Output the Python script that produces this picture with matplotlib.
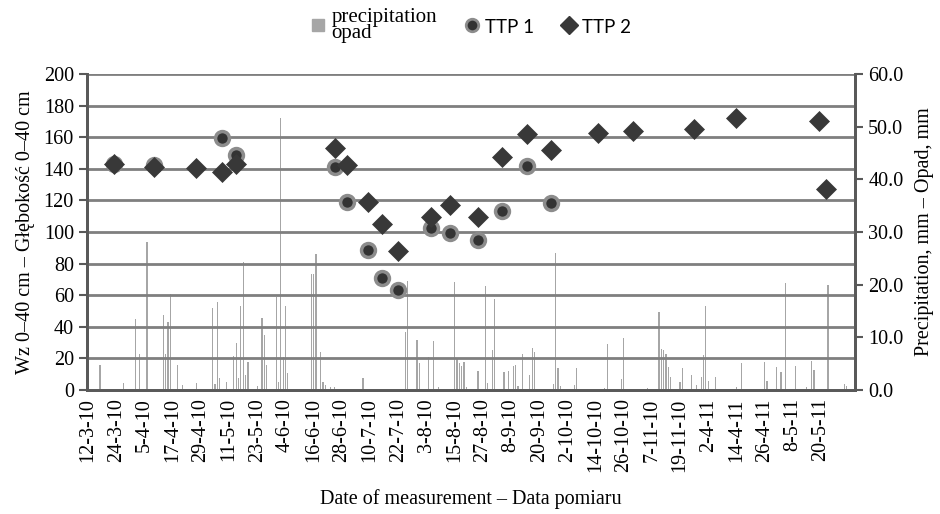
import numpy as np
import matplotlib
matplotlib.use("Agg")
import matplotlib.pyplot as plt
from matplotlib.lines import Line2D

# category axis: one slot per day of measurement, labels every 12 slots
n_days = 327
date_labels = ["12-3-10", "24-3-10", "5-4-10", "17-4-10", "29-4-10", "11-5-10",
               "23-5-10", "4-6-10", "16-6-10", "28-6-10", "10-7-10", "22-7-10",
               "3-8-10", "15-8-10", "27-8-10", "8-9-10", "20-9-10", "2-10-10",
               "14-10-10", "26-10-10", "7-11-10", "19-11-10", "2-4-11", "14-4-11",
               "26-4-11", "8-5-11", "20-5-11"]

rain_day = [5, 15, 20, 22, 25, 32, 33, 34, 35, 38, 40, 46, 53, 54, 55, 56, 59,
            62, 63, 64, 65, 66, 67, 68, 72, 74, 75, 76, 80, 81, 82, 83, 84, 85,
            95, 96, 97, 99, 100, 101, 103, 105, 117, 135, 136, 140, 141, 145,
            147, 149, 156, 157, 158, 159, 160, 161, 166, 169, 170, 172, 173,
            177, 179, 181, 182, 183, 185, 188, 189, 190, 198, 199, 200, 201,
            207, 208, 220, 221, 227, 228, 238, 243, 244, 245, 246, 247, 248,
            252, 253, 257, 259, 261, 262, 263, 264, 267, 276, 278, 288, 289,
            293, 295, 297, 301, 306, 308, 309, 315, 322, 323]
rain_mm = [4.7, 1.3, 13.5, 6.8, 28.1, 14.2, 6.8, 12.9, 18.3, 4.8, 1.0, 1.3, 15.6,
           1.2, 16.7, 2.2, 1.5, 6.5, 8.9, 2.2, 16.0, 24.3, 2.8, 5.4, 0.8, 13.7,
           10.4, 4.8, 17.7, 1.5, 51.6, 6.3, 15.9, 3.2, 22.0, 22.0, 25.8, 7.3,
           1.5, 0.9, 0.5, 0.5, 2.3, 11.0, 20.7, 9.5, 5.2, 6.3, 9.4, 0.6, 20.5,
           5.8, 5.1, 4.5, 5.3, 0.6, 3.6, 19.7, 1.3, 7.6, 17.2, 3.4, 3.6, 4.5,
           4.7, 0.8, 6.8, 2.9, 8.0, 7.2, 1.2, 26.0, 4.2, 0.8, 0.9, 4.2, 0.4,
           8.8, 2.1, 9.9, 0.4, 14.9, 7.8, 7.6, 6.9, 4.4, 2.4, 1.5, 4.1, 2.8,
           1.0, 2.4, 6.6, 16.0, 1.8, 2.5, 0.5, 5.2, 5.4, 1.8, 4.3, 3.4, 20.3,
           4.6, 0.5, 5.6, 3.8, 19.9, 1.2, 0.8]

ttp_day = [11, 28, 46, 57, 63, 105, 110, 119, 125, 132, 146, 154, 166, 176, 187,
           197, 217, 232, 258, 276, 311, 314]
ttp1 = [143, 142.4, np.nan, 159.7, 148.7, 141.3, 118.8, 88.6, 70.7, 63.3, 102.3,
        99.6, 94.9, 113.5, 141.8, 118.5, np.nan, np.nan, np.nan, np.nan, np.nan, np.nan]
ttp2 = [143, 141, 140.3, 137.8, 142.8, 153.4, 142.4, 118.8, 105, 88, 109.7, 117,
        109.7, 147.3, 161.8, 151.9, 162.4, 163.9, 165.2, 172, 170.3, 127]

serif = "Liberation Serif"
dark = "#595959"
grid = "#7f7f7f"

fig = plt.figure(figsize=(9.4, 5.14), dpi=100)
ax = fig.add_axes([0.0926, 0.2412, 0.817, 0.6148])
ax2 = ax.twinx()
ax.set_zorder(ax2.get_zorder() + 1)
ax.patch.set_visible(False)

ax2.bar(rain_day, rain_mm, width=0.5, color="#a6a6a6", linewidth=0)
ax2.set_ylim(0, 60)
ax2.set_yticks(np.arange(0, 61, 10))
ax2.set_yticklabels([f"{v:.1f}" for v in range(0, 61, 10)], fontfamily=serif, fontsize=14.5)
ax2.set_ylabel("Precipitation, mm – Opad, mm", fontfamily=serif, fontsize=14.5, labelpad=8)

ax.plot(ttp_day, ttp1, "o", ms=10, mfc="#333333", mec="#8c8c8c", mew=2.5, linestyle="none")
ax.plot(ttp_day, ttp2, "D", ms=10.5, mfc="#383838", mec="#383838", mew=0.5, linestyle="none")

ax.set_ylim(0, 200)
ax.set_yticks(np.arange(0, 201, 20))
ax.set_yticklabels([str(v) for v in range(0, 201, 20)], fontfamily=serif, fontsize=14.5)
ax.set_ylabel("Wz 0–40 cm – Głębokość 0–40 cm", fontfamily=serif, fontsize=14.5, labelpad=6)
ax.set_xlim(-0.5, n_days - 0.5)
ax.set_xticks(np.arange(0, 12 * len(date_labels), 12))
ax.set_xticklabels(date_labels, rotation=90, fontfamily=serif, fontsize=14.5)
ax.set_xlabel("Date of measurement – Data pomiaru", fontfamily=serif, fontsize=14.5, labelpad=12)
ax.grid(axis="y", color=grid, linewidth=2)
ax.set_axisbelow(True)

ax.tick_params(axis="x", length=0, pad=6)
ax.tick_params(axis="y", length=6, width=1.5, color=dark, direction="out")
ax2.tick_params(axis="y", length=6, width=1.5, color=dark, direction="out")
for a in (ax, ax2):
    a.spines["top"].set_visible(False)
    for s in ("left", "right", "bottom"):
        a.spines[s].set_color(dark)
        a.spines[s].set_linewidth(2)

handles = [
    Line2D([], [], marker="s", color="#a6a6a6", ms=9, linestyle="none"),
    Line2D([], [], marker="o", ms=9, mfc="#333333", mec="#8c8c8c", mew=2, linestyle="none"),
    Line2D([], [], marker="D", ms=9, color="#383838", linestyle="none"),
]
leg = fig.legend(handles, ["precipitation\nopad", "TTP 1", "TTP 2"], loc="center",
                 bbox_to_anchor=(0.5, 0.95), ncol=3, frameon=False, handletextpad=0.2,
                 columnspacing=1.2, handlelength=0.9, prop={"family": serif, "size": 15})
for t in leg.get_texts()[1:]:
    t.set_fontfamily("Lato")
    t.set_fontsize(13.5)
leg.get_texts()[0].set_linespacing(0.8)

fig.savefig("out.png", dpi=100)
